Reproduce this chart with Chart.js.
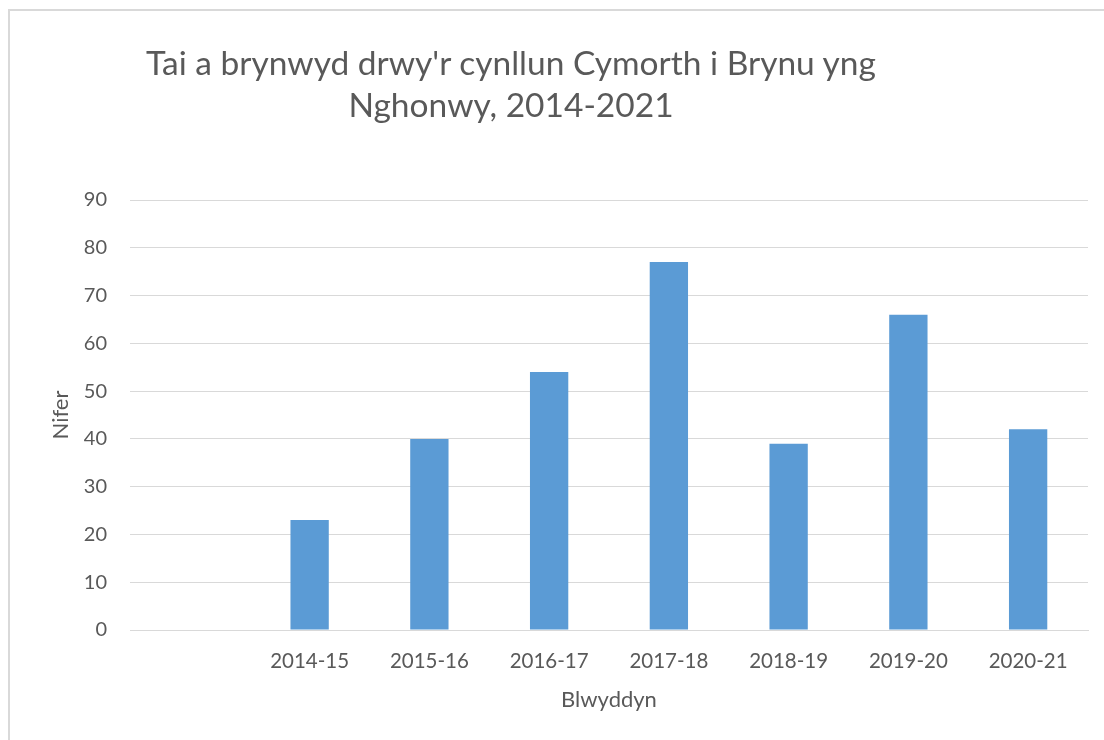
<!DOCTYPE html>
<html>
<head>
<meta charset="utf-8">
<script src="https://cdn.jsdelivr.net/npm/chart.js@4"></script>
<style>
  body { margin: 0; background: #fff; }
  #wrap { position: relative; width: 1104px; height: 740px; overflow: hidden; }
  #frame { position: absolute; left: 8px; top: 9px; width: 1200px; height: 800px; border: 2px solid #d9d9d9; box-sizing: border-box; }
  #title { position: absolute; left: 0; top: 41px; width: 1022px; text-align: center;
    font-family: Lato, sans-serif; font-size: 33.5px; line-height: 42px; color: #595959; }
  canvas { position: absolute; left: 0; top: 0; }
</style>
</head>
<body>
<div id="wrap">
  <div id="frame"></div>
  <canvas id="myChart" width="1104" height="740"></canvas>
  <div id="title">Tai a brynwyd drwy'r cynllun Cymorth i Brynu yng<br>Nghonwy, 2014-2021</div>
</div>
<script>
// first category is blank in the original chart
let years = ['', '2014-15', '2015-16', '2016-17', '2017-18', '2018-19', '2019-20', '2020-21'];
let counts = [null, 23, 40, 54, 77, 39, 66, 42];
let yTicks = [0, 10, 20, 30, 40, 50, 60, 70, 80, 90];

let textColor = '#595959';
let gridColor = '#d9d9d9';
let font = 'Lato, sans-serif';

let ctx = document.getElementById('myChart');

new Chart(ctx, {
    type: 'bar',
    data: {
        labels: years,
        datasets: [{
            label: 'Nifer',
            data: counts,
            backgroundColor: '#5b9bd5',
            borderWidth: 0,
            categoryPercentage: 1,
            barPercentage: 0.32
        }]
    },
    options: {
        responsive: false,
        animation: false,
        layout: {
            padding: { top: 200, left: 30, right: 16, bottom: 0 }
        },
        plugins: {
            legend: { display: false },
            tooltip: { enabled: false }
        },
        scales: {
            x: {
                grid: { display: false, drawTicks: false },
                border: { color: gridColor, width: 1 },
                ticks: {
                    color: textColor,
                    font: { family: font, size: 20.5 },
                    padding: 19,
                    maxRotation: 0,
                    autoSkip: false
                },
                title: {
                    display: true,
                    text: 'Blwyddyn',
                    color: textColor,
                    font: { family: font, size: 22 },
                    padding: { top: 0, bottom: 27 }
                },
                afterFit: (axis) => { axis.height = 110; }
            },
            y: {
                min: 0,
                max: 90,
                afterBuildTicks: (axis) => {
                    axis.ticks = yTicks.map(v => ({ value: v }));
                },
                grid: { color: gridColor, lineWidth: 1, drawTicks: false },
                border: { display: false },
                ticks: {
                    color: textColor,
                    font: { family: font, size: 20 },
                    padding: 23
                },
                title: {
                    display: true,
                    text: 'Nifer',
                    color: textColor,
                    font: { family: font, size: 22 },
                    padding: { top: 18, bottom: 0 }
                },
                afterFit: (axis) => { axis.width = 100; }
            }
        }
    }
});
</script>
</body>
</html>
